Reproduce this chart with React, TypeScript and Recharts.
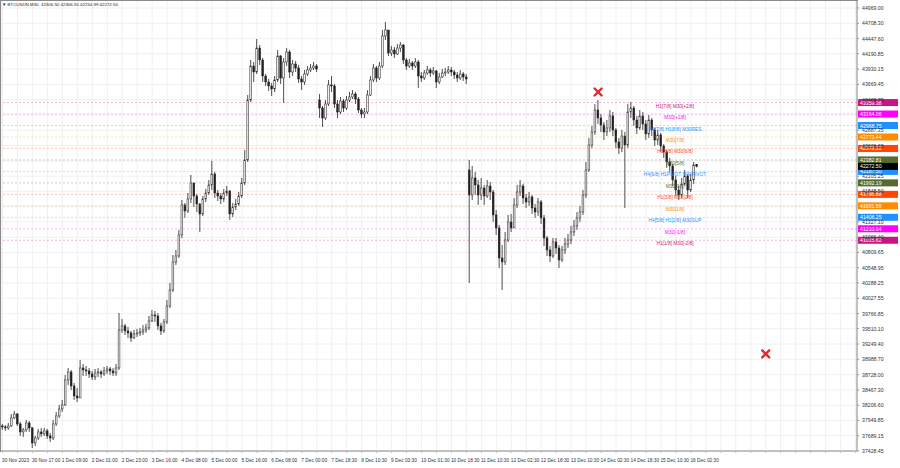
import React from "react";
import { ComposedChart, Bar, XAxis, YAxis, CartesianGrid, ReferenceLine, ReferenceDot } from "recharts";

// candles as [high, low, close, open?] - open defaults to previous close
const nov30ToDec2 = [
  [37889, 37787, 37838, 37855], [37872, 37770, 37821], [37906, 37787, 37855], [38059, 37838, 37991],
  [38110, 37974, 38059], [38076, 37855, 37889], [37923, 37685, 37753], [37821, 37668, 37787],
  [37957, 37753, 37906], [37940, 37753, 37821], [37838, 37480, 37565], [37685, 37514, 37650],
  [37804, 37616, 37753], [37821, 37668, 37719], [37821, 37685, 37770], [37804, 37634, 37685],
  [37736, 37582, 37650], [37957, 37616, 37889], [38093, 37855, 38025], [38212, 37991, 38144],
  [38297, 38093, 38212], [38723, 38195, 38638], [38842, 38553, 38774], [38808, 38467, 38536],
  [38587, 38297, 38365], [38502, 38263, 38331], [38978, 38348, 38842], [38910, 38706, 38808],
  [38876, 38706, 38791], [38842, 38672, 38740], [38791, 38638, 38689], [38825, 38638, 38757],
  [38842, 38689, 38774], [38808, 38672, 38740], [38859, 38706, 38791], [38876, 38740, 38825],
  [38859, 38723, 38791], [38842, 38706, 38757], [38910, 38706, 38842],
];

const dec3ToDec5 = [
  [39778, 38808, 39489], [39676, 39438, 39557], [39591, 39404, 39472], [39540, 39353, 39438],
  [39472, 39284, 39353], [39489, 39335, 39421], [39506, 39370, 39438], [39523, 39387, 39455],
  [39574, 39404, 39489], [39591, 39438, 39523], [39727, 39489, 39642], [39829, 39625, 39744],
  [39812, 39625, 39727], [39778, 39489, 39557], [39608, 39404, 39472], [39676, 39438, 39625],
  [39999, 39591, 39897], [40289, 39863, 40169], [40765, 40135, 40646], [40850, 40595, 40748],
  [41191, 40714, 41106], [41701, 41054, 41616], [41650, 41395, 41514], [41820, 41480, 41718],
  [42127, 41650, 41991], [41991, 41582, 41769], [41803, 41497, 41633], [41650, 41157, 41463],
  [41769, 41429, 41718], [41888, 41667, 41820], [42042, 41786, 41957], [42365, 41871, 42144],
  [42178, 41735, 41820], [41871, 41684, 41769], [41820, 41633, 41718], [41888, 41667, 41820],
  [41939, 41769, 41854], [41871, 41361, 41463], [41650, 41412, 41582], [41718, 41531, 41633],
  [41837, 41599, 41769], [42076, 41735, 41991], [42552, 41957, 42382],
];

const dec5ToDec10 = [
  [43488, 42348, 43403], [44084, 43369, 43982], [44050, 43710, 43880], [44441, 43846, 44288],
  [44339, 43999, 44084], [44118, 43710, 43812], [43846, 43642, 43710], [43761, 43556, 43642],
  [43693, 43471, 43591], [43812, 43539, 43744], [44254, 43710, 44152], [44169, 43676, 43778],
  [44118, 43352, 44050], [44288, 43982, 44220], [44254, 43778, 43880], [44084, 43812, 44016],
  [44067, 43880, 43948], [43999, 43693, 43761], [43812, 43573, 43710], [43914, 43659, 43846],
  [43982, 43812, 43914], [44016, 43880, 43948], [44050, 43914, 43982], [44016, 43880, 43931],
  [43505, 43097, 43267, 43403], [43301, 42944, 43097], [43403, 43063, 43335], [43744, 43301, 43659],
  [43812, 43539, 43642], [43676, 43267, 43335], [43403, 43097, 43199], [43454, 43165, 43386],
  [43420, 43199, 43267], [43471, 43233, 43403], [43539, 43369, 43454], [43573, 43420, 43505],
  [43539, 43335, 43420], [43454, 43182, 43233], [43267, 43097, 43165], [43267, 43097, 43199],
  [43573, 43165, 43488], [43812, 43471, 43744], [44016, 43710, 43948], [43982, 43710, 43778],
  [44050, 43744, 43982], [44595, 43948, 44493], [44731, 44424, 44595], [44595, 44152, 44203],
  [44322, 44152, 44254], [44305, 44118, 44186], [44356, 44169, 44288], [44390, 44220, 44339],
  [44356, 44016, 44084], [44118, 43914, 43982], [44101, 43948, 44033], [44067, 43914, 43982],
  [44118, 43948, 44050], [44084, 43608, 43812], [43880, 43710, 43778], [43914, 43744, 43863],
  [43982, 43829, 43914], [43948, 43795, 43863], [43965, 43829, 43897], [43914, 43608, 43710],
  [43863, 43676, 43795], [43931, 43778, 43863], [43948, 43812, 43880], [43982, 43846, 43914],
  [43965, 43812, 43880], [43914, 43761, 43829], [43880, 43710, 43778], [43914, 43744, 43846],
  [43880, 43727, 43795], [43846, 43676, 43761],
];

const dec10ToDec16 = [
  [42382, 40289, 41786, 42212], [42280, 41701, 42076], [42178, 41786, 41957], [42042, 41616, 41786],
  [42076, 41701, 41905], [41957, 41616, 41769], [42042, 41735, 41939], [42008, 41701, 41837],
  [41871, 41327, 41446], [41531, 41106, 41225], [41276, 40544, 40714], [40935, 40169, 40646],
  [41157, 40595, 41020], [41446, 40986, 41327], [41463, 41157, 41225], [41735, 41225, 41616],
  [41957, 41565, 41837], [42042, 41769, 41939], [41974, 41633, 41735], [41803, 41565, 41667],
  [41837, 41599, 41752], [41786, 41463, 41565], [41633, 41395, 41497], [41735, 41429, 41667],
  [41701, 41293, 41395], [41446, 40918, 41054], [41088, 40748, 40850], [40918, 40646, 40748],
  [41054, 40714, 40986], [41054, 40782, 40884], [40935, 40544, 40680], [40918, 40646, 40850],
  [41054, 40782, 40952], [41123, 40884, 41020], [41259, 40952, 41157], [41361, 41088, 41259],
  [41497, 41191, 41395], [41599, 41327, 41497], [41871, 41446, 41786], [42348, 41735, 42212],
  [42756, 42178, 42637], [42961, 42586, 42859], [43335, 42808, 43233], [43403, 42995, 43097],
  [43165, 42859, 42978], [43029, 42722, 42859], [43063, 42790, 42927], [43233, 42859, 43131],
  [43199, 42790, 42893], [42927, 42586, 42688], [42756, 42484, 42586], [42893, 42518, 42790],
  [42859, 41565, 42637], [43335, 42586, 43199], [43369, 43097, 43267], [43301, 42961, 43063],
  [43131, 42825, 42927], [43233, 42893, 43131], [43199, 42893, 42995], [43063, 42722, 42825],
  [43148, 42756, 43063], [43097, 42790, 42893], [42927, 42620, 42722], [42893, 42637, 42808],
  [42842, 42518, 42620], [42654, 42416, 42518], [42552, 42246, 42348], [42416, 42178, 42280],
  [42314, 41939, 42042], [42110, 41769, 41871], [41939, 41701, 41786], [42076, 41735, 41974],
  [42212, 41939, 42110], [42144, 41735, 41871], [42144, 41837, 42042], [42348, 41974, 42297],
  [42306.5, 42254.99, 42272.5, 42306.5],
];

const timeLabels = [
  "30 Nov 2023", "30 Nov 17:00", "1 Dec 09:00", "2 Dec 01:00", "2 Dec 23:00", "3 Dec 16:00",
  "4 Dec 08:00", "5 Dec 00:00", "5 Dec 16:00", "6 Dec 08:00", "7 Dec 00:00", "7 Dec 18:30",
  "8 Dec 10:30", "9 Dec 03:30", "10 Dec 01:30", "10 Dec 18:30", "11 Dec 10:30", "12 Dec 02:30",
  "12 Dec 18:30", "13 Dec 10:30", "14 Dec 02:30", "14 Dec 18:30", "15 Dec 10:30", "16 Dec 02:30",
];

// ticks hidden under the coloured price tags are left out
const priceTicks = [
  44969.0, 44708.3, 44447.6, 44190.85, 43930.15, 43669.45, 43408.75, 42887.35, 42626.65,
  42105.25, 41848.5, 41327.1, 41066.4, 40809.65, 40548.95, 40288.25, 40027.55,
  39766.85, 39510.1, 39249.4, 38988.7, 38728.0, 38467.3, 38206.6, 37949.85, 37689.15, 37428.45,
];
const gridPrices = [
  44969.0, 44708.3, 44447.6, 44190.85, 43930.15, 43669.45, 43408.75, 43148.05, 42887.35, 42626.65,
  42365.95, 42105.25, 41848.5, 41587.8, 41327.1, 41066.4, 40809.65, 40548.95, 40288.25, 40027.55,
  39766.85, 39510.1, 39249.4, 38988.7, 38728.0, 38467.3, 38206.6, 37949.85, 37689.15, 37428.45,
];

const levelValues = [
  43359.38, 43164.06, 42968.75, 42773.44, 42578.12, 42382.81, 42187.5,
  41992.19, 41796.88, 41601.56, 41406.25, 41210.94, 41015.62,
];
const levelNames = [
  "H1[7/8] M30[+2/8]", "M30[+1/8]", "H4[7/8] H1[8/8] M30RES", "M30[7/8]", "H1[6/8] M30[6/8]",
  "M30[5/8]", "H4[6/8] H1PIVOT M30PIVOT", "M30[3/8]", "H1[3/8] M30[2/8]", "M30[1/8]",
  "H4[5/8] H1[2/8] M30SUP", "M30[-1/8]", "H1[1/8] M30[-2/8]",
];
const levelColors = [
  "#C71585", "#FF00FF", "#1E90FF", "#FF8C00", "#FF4500", "#556B2F", "#1E90FF",
  "#556B2F", "#FF4500", "#FF8C00", "#1E90FF", "#FF00FF", "#C71585",
];

const symbolTitle = "BTCUSDN,M30";
const lastBar = { o: 42306.5, h: 42306.5, l: 42254.99, c: 42272.5 };
const crossMarks = [
  { i: 199, price: 43539 },
  { i: 255, price: 39080 },
];

const TOTAL_SLOTS = 286;

const candles = [...nov30ToDec2, ...dec3ToDec5, ...dec5ToDec10, ...dec10ToDec16];
const rows: any[] = [];
let prev = candles[0][2];
candles.forEach((cd, i) => {
  const o = cd[3] !== undefined ? cd[3] : prev;
  const c = cd[2];
  const h = Math.max(cd[0], o, c);
  const l = Math.min(cd[1], o, c);
  rows.push({ i, o, h, l, c, range: [l, h] });
  prev = c;
});
for (let i = candles.length; i < TOTAL_SLOTS; i++) rows.push({ i });

const xTicks = Array.from({ length: Math.ceil(TOTAL_SLOTS / 5) }, (_, k) => k * 5);

const FONT = "'Liberation Sans', Arial, sans-serif";

function Candle(props: any) {
  const { x, y, width, height, payload } = props;
  if (!payload || payload.h == null) return null;
  const { o, h, l, c } = payload;
  const top = Math.min(y, y + height);
  const span = Math.abs(height);
  const k = h > l ? span / (h - l) : 0;
  const py = (p: number) => top + (h - p) * k;
  const cx = x + width / 2;
  const yO = py(o);
  const yC = py(c);
  const bodyTop = Math.min(yO, yC);
  const bodyH = Math.max(Math.abs(yO - yC), 0.8);
  const up = c >= o;
  return (
    <g>
      <line x1={cx} x2={cx} y1={top} y2={top + span} stroke="#222" strokeWidth={0.8} />
      <rect x={cx - 0.9} y={bodyTop} width={1.8} height={bodyH} fill={up ? "#eee" : "#222"} stroke="#222" strokeWidth={0.5} />
    </g>
  );
}

function XTick(props: any) {
  const { x, y, payload } = props;
  const v = payload.value;
  if (v % 10 !== 0) return null;
  const label = timeLabels[v / 10];
  if (!label) return null;
  return (
    <text x={x - 0.5} y={y + 6.5} fontSize={4.8} fill="#333" fontFamily={FONT} textAnchor="start">
      {label}
    </text>
  );
}

function YTick(props: any) {
  const { x, y, payload } = props;
  return (
    <text x={x} y={y + 2} fontSize={5.2} fill="#333" fontFamily={FONT} textAnchor="start">
      {payload.value.toFixed(2)}
    </text>
  );
}

function LevelTag({ viewBox, name, color, value }: any) {
  if (!viewBox) return null;
  const ly = viewBox.y;
  const right = viewBox.x + viewBox.width;
  return (
    <g>
      {name ? (
        <text x={viewBox.x + 674} y={ly + 5} fontSize={4.8} fill={color} fontFamily={FONT} textAnchor="middle">
          {name}
        </text>
      ) : null}
      <rect x={right + 1} y={ly - 3.5} width={40} height={7} fill={color} />
      <text x={right + 3} y={ly + 2} fontSize={5.2} fill="#fff" fontFamily={FONT}>
        {value.toFixed(2)}
      </text>
    </g>
  );
}

function CrossMark(props: any) {
  const { cx, cy } = props;
  if (cx == null || cy == null) return null;
  return (
    <g stroke="#e5262c" strokeWidth={2.4} strokeLinecap="round">
      <line x1={cx - 3.5} y1={cy - 3.5} x2={cx + 3.5} y2={cy + 3.5} />
      <line x1={cx - 3.5} y1={cy + 3.5} x2={cx + 3.5} y2={cy - 3.5} />
    </g>
  );
}

export default function App() {
  return (
    <div style={{ position: "absolute", left: 0, top: 0, width: 900, height: 468, background: "#fff" }}>
      <ComposedChart width={900} height={468} data={rows} margin={{ top: 1, right: 0, bottom: 0, left: 1 }}>
        <CartesianGrid stroke="#ececec" strokeWidth={0.8} horizontalValues={gridPrices} />
        <XAxis
          dataKey="i"
          type="category"
          ticks={xTicks}
          interval={0}
          height={17}
          tick={XTick}
          tickSize={2}
          tickMargin={2}
          axisLine={{ stroke: "#8a8a8a" }}
          tickLine={{ stroke: "#bbb" }}
        />
        <YAxis
          orientation="right"
          width={43}
          type="number"
          domain={[37428.45, 45088.1]}
          ticks={priceTicks}
          interval={0}
          tick={YTick}
          tickSize={2}
          tickMargin={3}
          axisLine={{ stroke: "#8a8a8a" }}
          tickLine={{ stroke: "#999" }}
          allowDataOverflow
        />
        <Bar dataKey="range" shape={Candle} isAnimationActive={false} />
        {levelValues.map((v, idx) => (
          <ReferenceLine
            key={v}
            y={v}
            stroke={levelColors[idx]}
            strokeOpacity={0.3}
            strokeDasharray="2 2"
            label={(p: any) => <LevelTag viewBox={p.viewBox} name={levelNames[idx]} color={levelColors[idx]} value={v} />}
          />
        ))}
        <ReferenceLine
          y={lastBar.c}
          stroke="none"
          label={(p: any) => <LevelTag viewBox={p.viewBox} name="" color="#000" value={lastBar.c} />}
        />
        {crossMarks.map((m) => (
          <ReferenceDot key={m.i} x={m.i} y={m.price} r={4} shape={CrossMark} />
        ))}
      </ComposedChart>
      <div
        style={{
          position: "absolute",
          left: 2,
          top: 1,
          fontFamily: FONT,
          fontSize: 4.4,
          color: "#222",
          whiteSpace: "pre",
          lineHeight: "7px",
        }}
      >
        {"▼ " + symbolTitle + "  " + [lastBar.o, lastBar.h, lastBar.l, lastBar.c].map((n) => n.toFixed(2)).join(" ")}
      </div>
      <div style={{ position: "absolute", left: 0, top: 0, width: 858, height: 1, background: "#8a8a8a" }} />
      <div style={{ position: "absolute", left: 0, top: 0, width: 1, height: 452, background: "#8a8a8a" }} />
    </div>
  );
}
